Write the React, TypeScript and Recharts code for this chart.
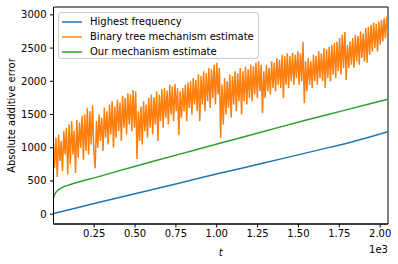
import React from 'react';
import { LineChart, Line, XAxis, YAxis, Legend, Label, ReferenceArea } from 'recharts';

const FONT = 'DejaVu Sans, sans-serif';

const seriesNames = ['Highest frequency', 'Binary tree mechanism estimate', 'Our mechanism estimate'];
const seriesColors = ['#1f77b4', '#ff7f0e', '#2ca02c'];

const xTicks = [250, 500, 750, 1000, 1250, 1500, 1750, 2000];
const yTicks = [0, 500, 1000, 1500, 2000, 2500, 3000];

const blueT = [1, 128, 256, 384, 512, 640, 768, 896, 1024, 1152, 1280, 1408, 1536, 1664, 1792, 1920, 2048];
const blueV = [10, 85, 165, 240, 315, 390, 465, 545, 620, 690, 765, 840, 915, 990, 1065, 1150, 1240];

const greenT = [1, 8, 16, 32, 64, 128, 192, 256, 384, 512, 640, 768, 896, 1024, 1152, 1280, 1408, 1536, 1664, 1792, 1920, 2048];
const greenV = [250, 300, 330, 370, 415, 465, 510, 550, 640, 728, 815, 900, 985, 1070, 1155, 1240, 1325, 1410, 1490, 1570, 1650, 1730];

const orangeT = [
  1, 8, 16, 24, 32, 40, 48, 56, 64, 72, 80, 88, 96, 104, 112, 120, 128, 136, 144, 152, 160, 168, 176, 184, 192, 200, 208, 216, 224, 232, 240, 248,
  256, 264, 272, 280, 288, 296, 304, 312, 320, 328, 336, 344, 352, 360, 368, 376, 384, 392, 400, 408, 416, 424, 432, 440, 448, 456, 464, 472, 480, 488, 496, 504,
  512, 520, 528, 536, 544, 552, 560, 568, 576, 584, 592, 600, 608, 616, 624, 632, 640, 648, 656, 664, 672, 680, 688, 696, 704, 712, 720, 728, 736, 744, 752, 760,
  768, 776, 784, 792, 800, 808, 816, 824, 832, 840, 848, 856, 864, 872, 880, 888, 896, 904, 912, 920, 928, 936, 944, 952, 960, 968, 976, 984, 992, 1000, 1008, 1016,
  1024, 1032, 1040, 1048, 1056, 1064, 1072, 1080, 1088, 1096, 1104, 1112, 1120, 1128, 1136, 1144, 1152, 1160, 1168, 1176, 1184, 1192, 1200, 1208, 1216, 1224, 1232, 1240, 1248, 1256, 1264, 1272,
  1280, 1288, 1296, 1304, 1312, 1320, 1328, 1336, 1344, 1352, 1360, 1368, 1376, 1384, 1392, 1400, 1408, 1416, 1424, 1432, 1440, 1448, 1456, 1464, 1472, 1480, 1488, 1496, 1504, 1512, 1520, 1528,
  1536, 1544, 1552, 1560, 1568, 1576, 1584, 1592, 1600, 1608, 1616, 1624, 1632, 1640, 1648, 1656, 1664, 1672, 1680, 1688, 1696, 1704, 1712, 1720, 1728, 1736, 1744, 1752, 1760, 1768, 1776, 1784,
  1792, 1800, 1808, 1816, 1824, 1832, 1840, 1848, 1856, 1864, 1872, 1880, 1888, 1896, 1904, 1912, 1920, 1928, 1936, 1944, 1952, 1960, 1968, 1976, 1984, 1992, 2000, 2008, 2016, 2024, 2032, 2040,
  2048,
];
const orangeV = [
  1050, 700, 1150, 560, 1200, 800, 1100, 650, 1250, 900, 1300, 600, 1350, 750, 1400, 900, 1250, 620, 1420, 850, 1380, 1000, 1480, 820, 1500, 950, 1600, 900, 1550, 1050, 1640, 960,
  690, 1400, 1000, 1500, 1100, 1450, 950, 1600, 1150, 1550, 1050, 1650, 1200, 1700, 1000, 1620, 1150, 1720, 1250, 1680, 1100, 1780, 1300, 1750, 1200, 1820, 1350, 1800, 1250, 1870, 1300, 1850,
  830, 1550, 1100, 1620, 1050, 1700, 1250, 1650, 1150, 1750, 1300, 1800, 1200, 1760, 1350, 1850, 1100, 1800, 1400, 1880, 1300, 1900, 1450, 1860, 1350, 1950, 1500, 1920, 1400, 1960, 1550, 1900,
  1190, 1850, 1450, 1900, 1550, 1950, 1400, 1980, 1600, 2000, 1500, 2050, 1650, 2020, 1550, 2100, 1400, 2080, 1650, 2150, 1550, 2120, 1700, 2200, 1600, 2180, 1750, 2250, 1650, 2280, 1800, 2200,
  1145, 1950, 1350, 2050, 1500, 2000, 1600, 2100, 1450, 2080, 1650, 2150, 1550, 2120, 1700, 2200, 1500, 2150, 1700, 2220, 1650, 2180, 1750, 2250, 1700, 2230, 1800, 2280, 1750, 2300, 1850, 2250,
  1520, 2150, 1750, 2250, 1850, 2200, 1800, 2300, 1900, 2280, 1850, 2350, 1950, 2320, 1900, 2400, 1750, 2380, 1950, 2420, 1900, 2380, 2000, 2430, 1950, 2400, 2050, 2450, 1950, 2420, 2000, 2590,
  1670, 2300, 1850, 2350, 1950, 2300, 1900, 2400, 2000, 2380, 1950, 2450, 2050, 2420, 2000, 2500, 1900, 2480, 2050, 2520, 2000, 2550, 2100, 2580, 2050, 2600, 2150, 2650, 2100, 2700, 2200, 2740,
  2020, 2550, 2200, 2600, 2250, 2650, 2200, 2700, 2300, 2680, 2250, 2750, 2350, 2720, 2300, 2800, 2280, 2820, 2400, 2850, 2450, 2880, 2500, 2860, 2450, 2900, 2550, 2920, 2600, 2950, 2650, 2970,
  2700,
];

const toData = (ts: number[], vs: number[]) => ts.map((t, i) => ({ t, v: vs[i] }));
const blueData = toData(blueT, blueV);
const orangeData = toData(orangeT, orangeV);
const greenData = toData(greenT, greenV);

const xDomain = [1, 2048];
const yDomain = [-148, 3118];

const tickStyle = { fill: '#000', fontSize: 10, fontFamily: FONT };

const XLabels = (props: any) => {
  const vb = props.viewBox || {};
  return (
    <g>
      <text x={vb.x + vb.width / 2} y={vb.y + 32} textAnchor="middle" fontSize={10} fontFamily={FONT} fontStyle="italic" fill="#000">t</text>
      <text x={vb.x + vb.width} y={vb.y + 29} textAnchor="end" fontSize={10} fontFamily={FONT} fill="#000">1e3</text>
    </g>
  );
};

const YLabel = (props: any) => {
  const vb = props.viewBox || {};
  const cy = vb.y + vb.height / 2;
  return (
    <text x={15} y={cy} transform={`rotate(-90, 15, ${cy})`} textAnchor="middle" fontSize={10} fontFamily={FONT} fill="#000">
      Absolute additive error
    </text>
  );
};

const LegendBox = () => (
  <div style={{
    width: 201, height: 47, boxSizing: 'border-box', border: '1px solid #cccccc', borderRadius: 3,
    background: 'rgba(255,255,255,0.8)', fontFamily: FONT, fontSize: 10, color: '#000', paddingTop: 1,
  }}>
    {seriesNames.map((n, i) => (
      <div key={n} style={{ height: 15, position: 'relative' }}>
        <svg width={22} height={6} style={{ position: 'absolute', left: 2, top: 4.5, display: 'block' }}>
          <line x1={1} y1={3} x2={21} y2={3} stroke={seriesColors[i]} strokeWidth={1.5} />
        </svg>
        <span style={{ position: 'absolute', left: 31, top: 0, lineHeight: '15px', whiteSpace: 'nowrap' }}>{n}</span>
      </div>
    ))}
  </div>
);

export default function App() {
  return (
    <div style={{ position: 'absolute', left: 0, top: 0, width: 398, height: 264, background: '#fff' }}>
      <LineChart width={398} height={264} margin={{ top: 7, right: 10, left: 0, bottom: 0 }}>
        <XAxis xAxisId="main" dataKey="t" type="number" domain={xDomain} allowDataOverflow ticks={xTicks}
          tickFormatter={(v: number) => (v / 1000).toFixed(2)} height={40} tickSize={3.5} tickMargin={2}
          stroke="#000" tick={tickStyle} interval={0}>
          <Label content={<XLabels />} />
        </XAxis>
        <YAxis yAxisId="main" type="number" domain={yDomain} allowDataOverflow ticks={yTicks} width={53.5}
          tickSize={3.5} tickMargin={3.5} stroke="#000" tick={tickStyle} interval={0}>
          <Label content={<YLabel />} />
        </YAxis>
        <Line xAxisId="main" yAxisId="main" data={blueData} dataKey="v" name={seriesNames[0]} stroke={seriesColors[0]}
          strokeWidth={1.5} dot={false} isAnimationActive={false} />
        <Line xAxisId="main" yAxisId="main" data={orangeData} dataKey="v" name={seriesNames[1]} stroke={seriesColors[1]}
          strokeWidth={1.5} dot={false} isAnimationActive={false} />
        <Line xAxisId="main" yAxisId="main" data={greenData} dataKey="v" name={seriesNames[2]} stroke={seriesColors[2]}
          strokeWidth={1.5} dot={false} isAnimationActive={false} />
        <ReferenceArea xAxisId="main" yAxisId="main" x1={xDomain[0]} x2={xDomain[1]} y1={yDomain[0]} y2={yDomain[1]}
          fill="none" fillOpacity={0} stroke="#000" strokeWidth={1} ifOverflow="visible" />
        <Legend layout="vertical" align="center" verticalAlign="middle" wrapperStyle={{ left: 58, top: 12, width: 201, height: 47 }}
          content={<LegendBox />} />
      </LineChart>
    </div>
  );
}
